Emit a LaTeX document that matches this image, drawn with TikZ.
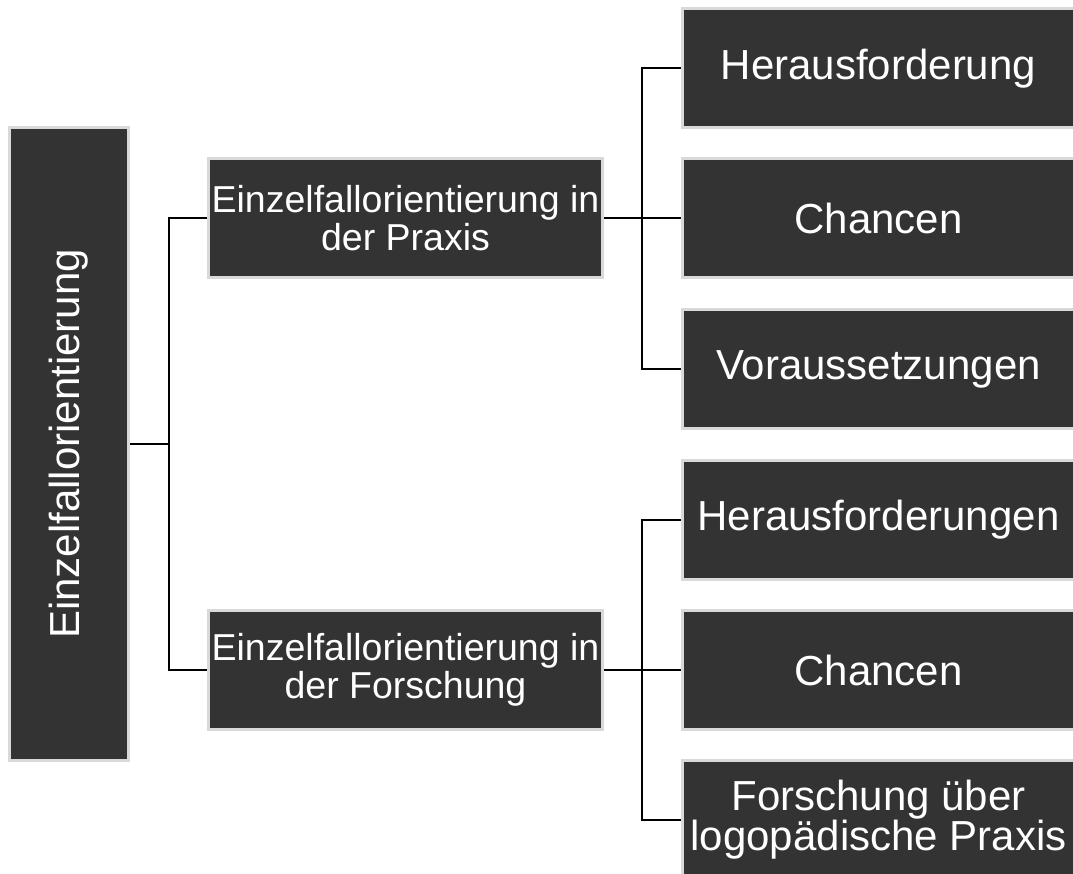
\documentclass[tikz,border=0pt]{standalone}
\usepackage{fontspec}
\usepackage{graphicx}
\setmainfont{Liberation Sans}
\definecolor{boxfill}{HTML}{333333}
\definecolor{boxline}{HTML}{D9D9D9}
\tikzset{
    box/.style={draw=boxline, line width=3pt, fill=boxfill, text=white, inner sep=0pt, align=center},
    topicbox/.style={box, minimum width=119pt, minimum height=633pt, font=\fontsize{42}{42}\selectfont},
    midbox/.style={box, minimum width=394pt, minimum height=119pt, font=\fontsize{37.5}{38}\selectfont},
    leafbox/.style={box, minimum width=392pt, minimum height=119pt, font=\fontsize{42}{40}\selectfont},
    link/.style={draw=black, line width=2pt}
}
\begin{document}
\begin{tikzpicture}[x=1pt,y=-1pt]
    \useasboundingbox (0,0) rectangle (1073,874);
    \clip (0,0) rectangle (1073,874);

    % Topic
    \node[topicbox] (topic) at (69,444) {\rotatebox{90}{Einzelfallorientierung}};

    % Areas
    \node[midbox] (praxis) at (405.5,218) {Einzelfallorientierung in\\der Praxis};
    \node[midbox] (forschung) at (405.5,670) {Einzelfallorientierung in\\der Forschung};

    % Aspects
    \node[leafbox] (praxisA) at (878.5,68.5) {Herausforderung};
    \node[leafbox] (praxisB) at (878.5,218) {Chancen};
    \node[leafbox] (praxisC) at (878.5,369) {Voraussetzungen};
    \node[leafbox] (forschungA) at (878.5,519.5) {Herausforderungen};
    \node[leafbox] (forschungB) at (878.5,670) {Chancen};
    \node[leafbox] (forschungC) at (878.5,820) {Forschung über\\logopädische Praxis};

    % Links
    \draw[link] (topic.east) -- ++(39,0) coordinate (trunk);
    \draw[link] (trunk) |- (praxis.west);
    \draw[link] (trunk) |- (forschung.west);
    \foreach \area in {praxis,forschung} {
        \draw[link] (\area.east) -- ++(38,0) coordinate (\area-fork);
        \foreach \part in {A,B,C} {
            \draw[link] (\area-fork) |- (\area\part.west);
        }
    }
\end{tikzpicture}
\end{document}
